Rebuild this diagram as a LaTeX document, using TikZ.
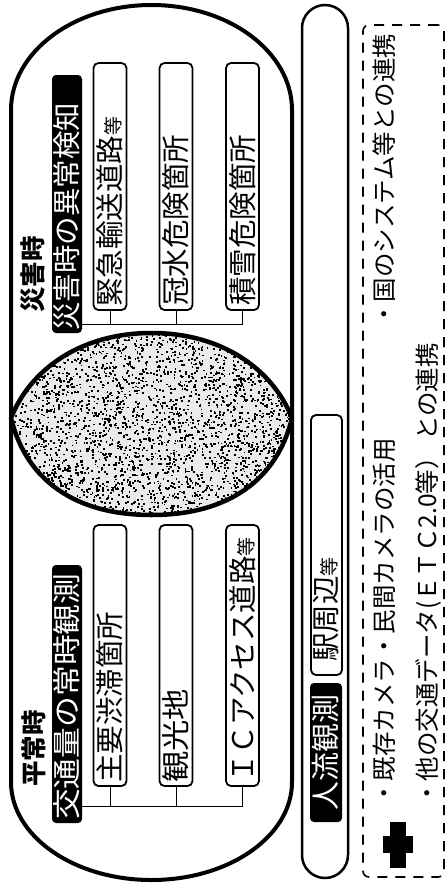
\documentclass[tikz,border=0pt]{standalone}
\usepackage{fontspec}
\newfontfamily\jp{Noto Sans CJK JP}
\begin{document}
\begin{tikzpicture}[x=1pt,y=-1pt,
  wbox/.style={draw, line width=1.8pt, rounded corners=5pt, fill=white, inner sep=0pt},
  bbox/.style={fill=black, rounded corners=4pt, inner sep=0pt},
  rtxt/.style={rotate=90, anchor=west, inner sep=0pt, font=\jp\fontsize{28.5}{28.5}\selectfont},
  wtxt/.style={rtxt, text=white},
  htxt/.style={rtxt, font=\jp\bfseries\fontsize{25.5}{25.5}\selectfont},
  stxt/.style={rtxt, font=\jp\fontsize{24.5}{24.5}\selectfont},
  conn/.style={line width=1pt},
]
\def\mylens{(11,418) .. controls (30,370) and (80,333) .. (151.5,333)
  .. controls (223,333) and (273,370) .. (292,418)
  .. controls (277,480) and (228,515) .. (151.5,515)
  .. controls (75,515) and (26,480) .. (11,418) -- cycle}
\useasboundingbox (0,0) rectangle (446,884);
% outer stadium
\draw[line width=4pt] (11,110) arc[start angle=180,end angle=360,x radius=140.5,y radius=105]
  -- (292,782) arc[start angle=0,end angle=180,x radius=140.5,y radius=98] -- cycle;
% lens with speckle texture
\fill[black!8] \mylens;
\begin{scope}
  \clip \mylens;
  \pgfmathsetseed{4711}
  \foreach \i in {1,...,3200}{
    \pgfmathsetmacro\xx{11+281*rnd}
    \pgfmathsetmacro\yy{333+182*rnd}
    \fill (\xx,\yy) rectangle ++(1.8,1.8);
  }
\end{scope}
\draw[line width=4.5pt, line join=round] \mylens;
% titles
\node[htxt] (tsai) at (33,313) {災害時};
\node[htxt] (theij) at (34,787) {平常時};
% black headers
\node[bbox, minimum width=30pt, minimum height=258pt] (uh) at (67,204) {};
\node[wtxt] (uht) at (67,331) {災害時の異常検知};
\node[bbox, minimum width=30pt, minimum height=258pt] (lh) at (67,694) {};
\node[wtxt] (lht) at (67,820) {\scalebox{1.08}[1]{交通量の常時観測}};
% upper boxes
\node[wbox, minimum width=33pt, minimum height=247pt] (u1) at (110,186.5) {};
\node[wbox, minimum width=33pt, minimum height=247pt] (u2) at (176,186.5) {};
\node[wbox, minimum width=33pt, minimum height=247pt] (u3) at (242.5,186.5) {};
\node[rtxt] (u1t) at (110,307) {緊急輸送道路{\fontsize{19}{19}\selectfont 等}};
\node[rtxt] (u2t) at (176,306) {冠水危険箇所};
\node[rtxt] (u3t) at (242.5,306) {積雪危険箇所};
% lower boxes
\node[wbox, minimum width=33pt, minimum height=261pt] (l1) at (110,655.5) {};
\node[wbox, minimum width=33pt, minimum height=261pt] (l2) at (176,655.5) {};
\node[wbox, minimum width=33pt, minimum height=261pt] (l3) at (242.5,655.5) {};
\node[rtxt] (l1t) at (110,783) {主要渋滞箇所};
\node[rtxt] (l2t) at (176,783) {\scalebox{1.1}[1]{観光地}};
\node[rtxt] (l3t) at (242.5,783) {ＩＣアクセス道路{\fontsize{19}{19}\selectfont 等}};
% connectors
\coordinate (ju) at (0,324);
\coordinate (jl) at (0,806);
\draw[conn] (u1.south) -- (u1.south |- ju);
\draw[conn] (u2.south) -- (u2.south |- ju);
\draw[conn] (u3.south) |- (uh.east |- ju);
\draw[conn] (l1.south) -- (l1.south |- jl);
\draw[conn] (l2.south) -- (l2.south |- jl);
\draw[conn] (l3.south) |- (lh.east |- jl);
% people-flow bar
\node[draw, line width=2.5pt, rounded corners=23pt, minimum width=46pt, minimum height=873pt, inner sep=0pt] (bar) at (325,441.5) {};
\node[bbox, minimum width=32pt, minimum height=139pt] (pb) at (326,752.5) {};
\node[wtxt, anchor=center, font=\jp\fontsize{29}{29}\selectfont] (pbt) at (326,752.5) {人流観測};
\node[wbox, minimum width=31pt, minimum height=260pt] (eki) at (326.5,545) {};
\node[rtxt] (ekit) at (326.5,662) {駅周辺{\fontsize{19}{19}\selectfont 等}};
% dashed box
\node[draw, dashed, dash pattern=on 10pt off 8pt, line width=1.6pt, rounded corners=6pt, minimum width=81pt, minimum height=852pt, inner sep=0pt] (db) at (403.5,451) {};
\fill (390,822) rectangle (406,868);
\fill (383,836) rectangle (413,853);
\node[stxt] (c1a) at (384,806) {・既存カメラ・民間カメラの活用};
\node[stxt] (c1b) at (384,327) {・国のシステム等との連携};
\node[stxt] (c2a) at (428,806) {・他の交通データ(ＥＴＣ2.0等）\,との連携};
\end{tikzpicture}
\end{document}
